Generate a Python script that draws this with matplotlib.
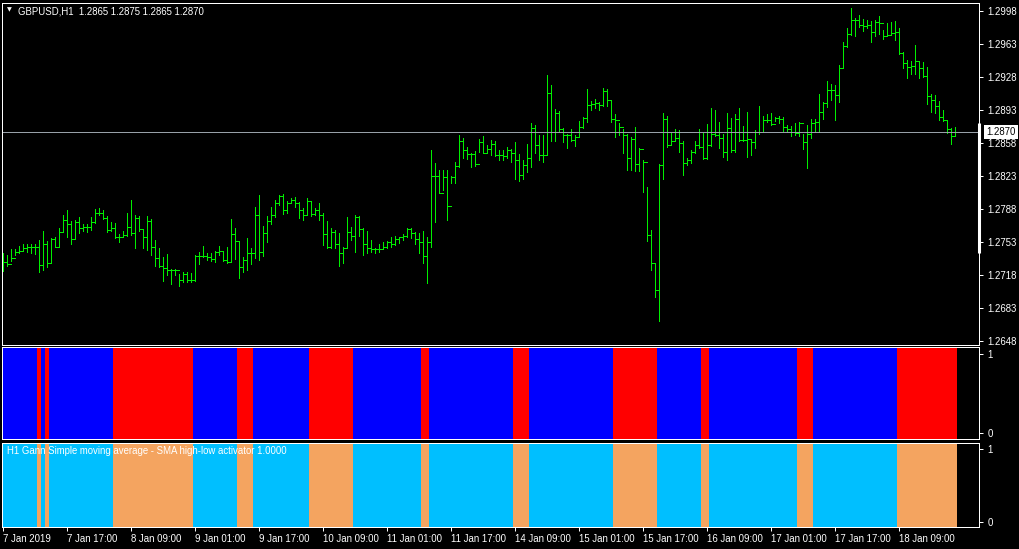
import numpy as np
import matplotlib
matplotlib.use("Agg")
import matplotlib.pyplot as plt
import matplotlib.transforms as mtransforms

# ---------------- data ----------------
symbol_header = "GBPUSD,H1  1.2865 1.2875 1.2865 1.2870"
indicator_name = "H1 Gann Simple moving average - SMA high-low activator 1.0000"
first_open = 1.2735
current_price = 1.2870

highs = [
    1.2741, 1.2739, 1.2746, 1.2746, 1.2749, 1.2751, 1.2751, 1.2751, 1.2751, 1.2755,
    1.2765, 1.2754, 1.2757, 1.2758, 1.2768, 1.2782, 1.2787, 1.2775, 1.2777, 1.2780,
    1.2772, 1.2772, 1.2780, 1.2788, 1.2789, 1.2787, 1.2781, 1.2774, 1.2773, 1.2762,
    1.2765, 1.2784, 1.2798, 1.2782, 1.2781, 1.2766, 1.2781, 1.2778, 1.2755, 1.2747,
    1.2737, 1.2740, 1.2725, 1.2725, 1.2719, 1.2721, 1.2721, 1.2720, 1.2739, 1.2743,
    1.2749, 1.2741, 1.2741, 1.2744, 1.2749, 1.2744, 1.2748, 1.2778, 1.2768, 1.2754,
    1.2737, 1.2757, 1.2747, 1.2790, 1.2803, 1.2770, 1.2781, 1.2790, 1.2798, 1.2803,
    1.2804, 1.2797, 1.2800, 1.2801, 1.2796, 1.2789, 1.2800, 1.2797, 1.2789, 1.2794,
    1.2784, 1.2775, 1.2768, 1.2766, 1.2763, 1.2748, 1.2780, 1.2769, 1.2782, 1.2781,
    1.2768, 1.2765, 1.2755, 1.2747, 1.2751, 1.2753, 1.2754, 1.2758, 1.2760, 1.2759,
    1.2762, 1.2768, 1.2768, 1.2764, 1.2763, 1.2765, 1.2759, 1.2851, 1.2837, 1.2830,
    1.2830, 1.2830, 1.2823, 1.2838, 1.2867, 1.2863, 1.2854, 1.2847, 1.2850, 1.2862,
    1.2865, 1.2856, 1.2861, 1.2860, 1.2851, 1.2851, 1.2854, 1.2852, 1.2859, 1.2846,
    1.2840, 1.2857, 1.2879, 1.2877, 1.2867, 1.2867, 1.2930, 1.2920, 1.2894, 1.2892,
    1.2874, 1.2868, 1.2873, 1.2867, 1.2881, 1.2886, 1.2915, 1.2903, 1.2905, 1.2902,
    1.2916, 1.2915, 1.2904, 1.2889, 1.2879, 1.2873, 1.2868, 1.2864, 1.2875, 1.2853,
    1.2840, 1.2811, 1.2766, 1.2731, 1.2836, 1.2890, 1.2887, 1.2870, 1.2873, 1.2872,
    1.2860, 1.2842, 1.2851, 1.2860, 1.2873, 1.2869, 1.2878, 1.2895, 1.2893, 1.2880,
    1.2868, 1.2890, 1.2885, 1.2889, 1.2895, 1.2876, 1.2891, 1.2861, 1.2872, 1.2897,
    1.2887, 1.2889, 1.2890, 1.2886, 1.2887, 1.2886, 1.2877, 1.2876, 1.2879, 1.2880,
    1.2868, 1.2877, 1.2884, 1.2884, 1.2910, 1.2902, 1.2924, 1.2921, 1.2920, 1.2941,
    1.2965, 1.2980, 1.3001, 1.2991, 1.2994, 1.2990, 1.2989, 1.2987, 1.2988, 1.2993,
    1.2978, 1.2985, 1.2986, 1.2987, 1.2980, 1.2955, 1.2946, 1.2945, 1.2962, 1.2944,
    1.2944, 1.2939, 1.2910, 1.2909, 1.2903, 1.2893, 1.2883, 1.2874, 1.2875,
]

lows = [
    1.2722, 1.2728, 1.2733, 1.2739, 1.2742, 1.2744, 1.2743, 1.2742, 1.2740, 1.2721,
    1.2724, 1.2727, 1.2731, 1.2748, 1.2748, 1.2764, 1.2759, 1.2751, 1.2756, 1.2763,
    1.2765, 1.2764, 1.2766, 1.2773, 1.2782, 1.2778, 1.2764, 1.2765, 1.2757, 1.2753,
    1.2758, 1.2760, 1.2761, 1.2747, 1.2765, 1.2747, 1.2745, 1.2739, 1.2728, 1.2727,
    1.2712, 1.2718, 1.2709, 1.2718, 1.2707, 1.2711, 1.2711, 1.2711, 1.2712, 1.2730,
    1.2737, 1.2734, 1.2733, 1.2732, 1.2739, 1.2733, 1.2731, 1.2732, 1.2735, 1.2715,
    1.2721, 1.2724, 1.2730, 1.2736, 1.2734, 1.2738, 1.2753, 1.2772, 1.2780, 1.2792,
    1.2783, 1.2784, 1.2794, 1.2790, 1.2779, 1.2777, 1.2782, 1.2781, 1.2782, 1.2777,
    1.2750, 1.2747, 1.2747, 1.2747, 1.2728, 1.2731, 1.2747, 1.2755, 1.2743, 1.2760,
    1.2739, 1.2741, 1.2743, 1.2741, 1.2743, 1.2746, 1.2747, 1.2748, 1.2750, 1.2752,
    1.2755, 1.2759, 1.2757, 1.2751, 1.2742, 1.2731, 1.2710, 1.2748, 1.2774, 1.2805,
    1.2808, 1.2776, 1.2816, 1.2816, 1.2833, 1.2842, 1.2841, 1.2833, 1.2834, 1.2849,
    1.2848, 1.2848, 1.2845, 1.2844, 1.2840, 1.2840, 1.2842, 1.2838, 1.2820, 1.2818,
    1.2820, 1.2827, 1.2833, 1.2847, 1.2840, 1.2838, 1.2846, 1.2860, 1.2860, 1.2871,
    1.2859, 1.2853, 1.2860, 1.2855, 1.2865, 1.2874, 1.2880, 1.2893, 1.2895, 1.2893,
    1.2897, 1.2897, 1.2880, 1.2864, 1.2867, 1.2847, 1.2830, 1.2830, 1.2828, 1.2828,
    1.2806, 1.2754, 1.2724, 1.2695, 1.2669, 1.2820, 1.2854, 1.2856, 1.2861, 1.2849,
    1.2824, 1.2835, 1.2837, 1.2848, 1.2853, 1.2841, 1.2841, 1.2855, 1.2866, 1.2853,
    1.2843, 1.2840, 1.2849, 1.2849, 1.2860, 1.2860, 1.2843, 1.2845, 1.2853, 1.2868,
    1.2870, 1.2880, 1.2877, 1.2881, 1.2879, 1.2871, 1.2870, 1.2865, 1.2867, 1.2866,
    1.2852, 1.2832, 1.2863, 1.2870, 1.2870, 1.2884, 1.2896, 1.2904, 1.2883, 1.2902,
    1.2938, 1.2960, 1.2973, 1.2972, 1.2981, 1.2977, 1.2980, 1.2965, 1.2972, 1.2974,
    1.2968, 1.2972, 1.2974, 1.2967, 1.2952, 1.2938, 1.2927, 1.2931, 1.2931, 1.2927,
    1.2928, 1.2899, 1.2891, 1.2890, 1.2883, 1.2881, 1.2869, 1.2857, 1.2865,
]

closes = [
    1.2732, 1.2730, 1.2736, 1.2743, 1.2744, 1.2747, 1.2748, 1.2748, 1.2748, 1.2729,
    1.2751, 1.2731, 1.2756, 1.2748, 1.2764, 1.2776, 1.2772, 1.2756, 1.2774, 1.2768,
    1.2769, 1.2769, 1.2774, 1.2784, 1.2784, 1.2779, 1.2766, 1.2768, 1.2758, 1.2758,
    1.2761, 1.2769, 1.2763, 1.2779, 1.2767, 1.2759, 1.2775, 1.2748, 1.2736, 1.2728,
    1.2726, 1.2723, 1.2724, 1.2724, 1.2713, 1.2719, 1.2713, 1.2713, 1.2738, 1.2738,
    1.2738, 1.2737, 1.2735, 1.2743, 1.2744, 1.2734, 1.2732, 1.2762, 1.2754, 1.2727,
    1.2734, 1.2742, 1.2741, 1.2782, 1.2743, 1.2763, 1.2775, 1.2782, 1.2795, 1.2802,
    1.2787, 1.2795, 1.2798, 1.2795, 1.2787, 1.2782, 1.2797, 1.2783, 1.2787, 1.2782,
    1.2762, 1.2748, 1.2764, 1.2751, 1.2742, 1.2747, 1.2764, 1.2760, 1.2780, 1.2767,
    1.2751, 1.2747, 1.2746, 1.2746, 1.2746, 1.2748, 1.2753, 1.2751, 1.2756, 1.2758,
    1.2760, 1.2767, 1.2763, 1.2756, 1.2753, 1.2738, 1.2753, 1.2823, 1.2823, 1.2805,
    1.2822, 1.2791, 1.2822, 1.2834, 1.2860, 1.2851, 1.2846, 1.2846, 1.2836, 1.2859,
    1.2848, 1.2852, 1.2857, 1.2845, 1.2845, 1.2844, 1.2851, 1.2847, 1.2840, 1.2824,
    1.2835, 1.2842, 1.2874, 1.2856, 1.2845, 1.2845, 1.2911, 1.2870, 1.2890, 1.2873,
    1.2867, 1.2867, 1.2861, 1.2864, 1.2875, 1.2885, 1.2898, 1.2899, 1.2900, 1.2898,
    1.2913, 1.2904, 1.2884, 1.2883, 1.2875, 1.2867, 1.2842, 1.2862, 1.2836, 1.2852,
    1.2838, 1.2761, 1.2731, 1.2702, 1.2835, 1.2884, 1.2856, 1.2860, 1.2863, 1.2858,
    1.2837, 1.2840, 1.2849, 1.2856, 1.2854, 1.2842, 1.2856, 1.2868, 1.2867, 1.2863,
    1.2849, 1.2874, 1.2851, 1.2884, 1.2861, 1.2861, 1.2862, 1.2859, 1.2870, 1.2870,
    1.2882, 1.2882, 1.2878, 1.2885, 1.2884, 1.2875, 1.2873, 1.2870, 1.2869, 1.2879,
    1.2859, 1.2868, 1.2879, 1.2880, 1.2891, 1.2900, 1.2914, 1.2914, 1.2909, 1.2938,
    1.2961, 1.2974, 1.2989, 1.2988, 1.2983, 1.2982, 1.2983, 1.2976, 1.2986, 1.2985,
    1.2972, 1.2973, 1.2975, 1.2976, 1.2954, 1.2943, 1.2939, 1.2940, 1.2945, 1.2938,
    1.2929, 1.2908, 1.2904, 1.2897, 1.2886, 1.2883, 1.2873, 1.2866, 1.2870,
]

# indicator state runs: (1 = up / blue, 0 = down / red, number of bars)
signal_runs = [(1, 9), (0, 1), (1, 1), (0, 1), (1, 16), (0, 20), (1, 11), (0, 4),
               (1, 14), (0, 11), (1, 17), (0, 2), (1, 21), (0, 4), (1, 21), (0, 11),
               (1, 11), (0, 2), (1, 22), (0, 4), (1, 21), (0, 15)]

price_ticks = [1.2648, 1.2683, 1.2718, 1.2753, 1.2788, 1.2823, 1.2858,
               1.2893, 1.2928, 1.2963, 1.2998]
date_tick_pos = [0, 16, 32, 48, 64, 80, 96, 112, 128, 144, 160, 176, 192, 208, 224]
date_tick_labels = ["7 Jan 2019", "7 Jan 17:00", "8 Jan 09:00", "9 Jan 01:00",
                    "9 Jan 17:00", "10 Jan 09:00", "11 Jan 01:00", "11 Jan 17:00",
                    "14 Jan 09:00", "15 Jan 01:00", "15 Jan 17:00", "16 Jan 09:00",
                    "17 Jan 01:00", "17 Jan 17:00", "18 Jan 09:00"]

# ---------------- derived ----------------
highs = np.array(highs)
lows = np.array(lows)
closes = np.array(closes)
opens = np.r_[first_open, closes[:-1]]
n = len(closes)
idx = np.arange(n)
signal = np.concatenate([np.full(k, s) for s, k in signal_runs])

plt.rcParams['font.family'] = ['Liberation Sans', 'DejaVu Sans']
W, H = 1020, 549
fig = plt.figure(figsize=(W / 100, H / 100), dpi=100, facecolor='black')


def px_axes(x0, y0, x1, y1):
    return fig.add_axes([x0 / W, 1 - y1 / H, (x1 - x0) / W, (y1 - y0) / H])


ax = px_axes(2, 3, 979, 345)
ax1 = px_axes(2, 347, 979, 439)
ax2 = px_axes(2, 443, 979, 527)

FS = 6.9
LW = 0.72
GREEN = '#00ee00'
BAR_LW = 0.66
XLIM = (-0.375, 243.875)

for a in (ax, ax1, ax2):
    a.set_facecolor('black')
    for sp in a.spines.values():
        sp.set_color('white')
        sp.set_linewidth(LW)
    a.set_xlim(*XLIM)
    a.yaxis.tick_right()
    a.tick_params(axis='y', colors='white', length=3, width=LW, pad=3,
                  labelsize=FS, direction='out')
    a.tick_params(axis='x', bottom=False, labelbottom=False)

# ---- main price chart ----
ax.set_ylim(1.26440, 1.30065)
lc1 = ax.vlines(idx, lows, highs, color=GREEN, lw=BAR_LW)
lc2 = ax.hlines(opens, idx - 0.4, idx, color=GREEN, lw=BAR_LW)
lc3 = ax.hlines(closes, idx, idx + 0.4, color=GREEN, lw=BAR_LW)
for lc in (lc1, lc2, lc3):
    lc.set_snap(True)
    lc.set_antialiased(False)
ax.axhline(current_price, color='#98a0a8', lw=LW, snap=True)
ax.set_yticks(price_ticks)
ax.set_yticklabels([f"{t:.4f}" for t in price_ticks])

bt = mtransforms.blended_transform_factory(ax.transAxes, ax.transData)
ax.plot([1.0, 1.0], [1.2741, 1.2879], transform=bt, color='white', lw=2.2,
        clip_on=False, solid_capstyle='butt')
ax.text(1.0075, current_price, f"{current_price:.4f}", transform=bt,
        ha='left', va='center', color='black', fontsize=FS, zorder=10,
        bbox=dict(boxstyle='square,pad=0.2', facecolor='white', edgecolor='none'))

# ---- indicator panels ----
up_colors1 = np.where(signal == 1, '#0000ff', '#ff0000')
up_colors2 = np.where(signal == 1, '#00bfff', '#f4a460')
for a, cols, lim in ((ax1, up_colors1, (-0.076, 1.089)),
                     (ax2, up_colors2, (-0.073, 1.083))):
    a.set_ylim(*lim)
    a.bar(idx, lim[1] - lim[0], bottom=lim[0], width=1.0, color=cols,
          linewidth=0, align='center')
    a.set_yticks([0, 1])
    a.set_yticklabels(['0', '1'])

ax2.tick_params(axis='x', bottom=True, labelbottom=True, colors='white',
                length=3, width=LW, pad=2, labelsize=FS, direction='out')
ax2.set_xticks(date_tick_pos)
ax2.set_xticklabels(date_tick_labels)
for lab in ax2.get_xticklabels():
    lab.set_ha('left')

# ---- header texts ----
fig.text(9.5 / W, 1 - 10 / H, '\u25bc', fontsize=4.5, color='white',
         ha='center', va='center', family='DejaVu Sans')
fig.text(18 / W, 1 - 11 / H, symbol_header, fontsize=FS, color='white',
         ha='left', va='center')
fig.text(7 / W, 1 - 451 / H, indicator_name, fontsize=FS, color='white',
         ha='left', va='center')

fig.savefig('out.png', dpi=100, facecolor='black')
